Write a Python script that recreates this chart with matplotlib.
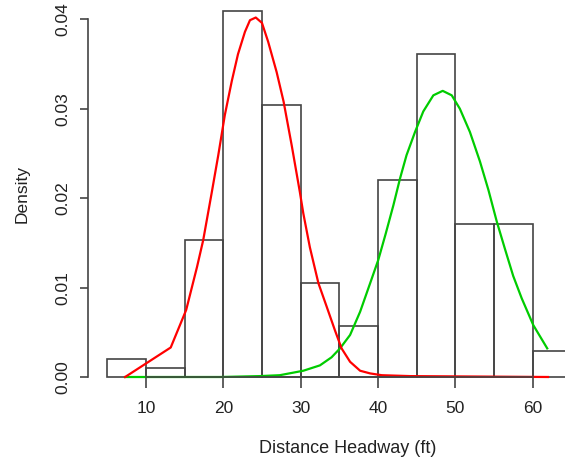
import matplotlib
matplotlib.use("Agg")
import matplotlib.pyplot as plt
import numpy as np

# histogram (density scale), bins of width 5
bin_edges = [5, 10, 15, 20, 25, 30, 35, 40, 45, 50, 55, 60, 65]
density = [0.0020, 0.0010, 0.0153, 0.0409, 0.0304, 0.0105,
           0.0057, 0.0220, 0.0361, 0.0171, 0.0171, 0.0029]

# fitted component curves
red_x = [7.3, 13.2, 15.2, 16.6, 17.4, 18.5, 19.35, 20.2, 21.1, 21.9, 22.8,
         23.45, 24.2, 25.0, 25.8, 26.9, 27.8, 28.85, 29.9, 30.35, 31.2, 32.3,
         33.4, 34.45, 35.3, 36.4, 37.7, 39.0, 40.5, 44.2, 62.0]
red_y = [0.0, 0.0033, 0.0075, 0.0123, 0.0153, 0.0206, 0.0248, 0.0293, 0.0331,
         0.0361, 0.0386, 0.0399, 0.0402, 0.0396, 0.0375, 0.0341, 0.0308,
         0.0259, 0.0207, 0.0183, 0.0145, 0.0105, 0.0078, 0.0052, 0.0032,
         0.0017, 0.0007, 0.0004, 0.0002, 0.0001, 0.0]

green_x = [7.3, 19.6, 24.7, 27.3, 30.35, 32.5, 34.0, 35.1, 36.4, 37.7, 39.0,
           40.05, 41.0, 42.0, 42.86, 43.7, 44.8, 45.87, 47.17, 48.38, 49.55,
           50.6, 51.9, 53.2, 54.3, 55.37, 56.44, 57.5, 58.6, 60.1, 61.9]
green_y = [0.0, 0.0, 0.0001, 0.0002, 0.0007, 0.0013, 0.0022, 0.0032, 0.0047,
           0.0073, 0.0105, 0.0131, 0.0160, 0.0192, 0.0222, 0.0248, 0.0274,
           0.0297, 0.0315, 0.0320, 0.0315, 0.0300, 0.0274, 0.0241, 0.0209,
           0.0174, 0.0143, 0.0113, 0.0088, 0.0058, 0.0032]

x_ticks = [10, 20, 30, 40, 50, 60]
y_ticks = [0.00, 0.01, 0.02, 0.03, 0.04]
y_tick_labels = ["0.00", "0.01", "0.02", "0.03", "0.04"]

plt.rcParams['font.family'] = ['Liberation Sans', 'DejaVu Sans']

W, H = 565, 461
fig = plt.figure(figsize=(W / 100, H / 100), dpi=100)
ax = fig.add_axes([88 / W, (H - 377) / H, (W - 88) / W, 377 / H])

edge = '#444444'
ax.bar(bin_edges[:-1], density, width=np.diff(bin_edges), align='edge',
       fill=False, edgecolor=edge, linewidth=1.2, clip_on=False)
ax.plot(green_x, green_y, color='#00CC00', lw=1.6, clip_on=False)
ax.plot(red_x, red_y, color='#FF0000', lw=1.6, clip_on=False)

ax.set_xlim(2.5, 64.2)
ax.set_ylim(0, 0.04216)
for s in ['top', 'right']:
    ax.spines[s].set_visible(False)
ax.spines['bottom'].set_bounds(10, 60)
ax.spines['left'].set_bounds(0, 0.04)
for s in ['bottom', 'left']:
    ax.spines[s].set_color(edge)
    ax.spines[s].set_linewidth(1.2)

ax.set_xticks(x_ticks)
ax.set_yticks(y_ticks)
ax.set_yticklabels(y_tick_labels, rotation=90, va='center')
ax.tick_params(axis='x', length=8, width=1.2, color=edge, pad=9,
               labelsize=12.5, labelcolor='#222222')
ax.tick_params(axis='y', length=6, width=1.2, color=edge, pad=7,
               labelsize=12.5, labelcolor='#222222')

fig.text(348 / W, 1 - 448 / H, 'Distance Headway (ft)', ha='center',
         va='center', fontsize=13, color='#222222')
fig.text(22 / W, 1 - 194 / H, 'Density', rotation=90, ha='center',
         va='center', fontsize=12.5, color='#222222')

fig.savefig('out.png', dpi=100)
